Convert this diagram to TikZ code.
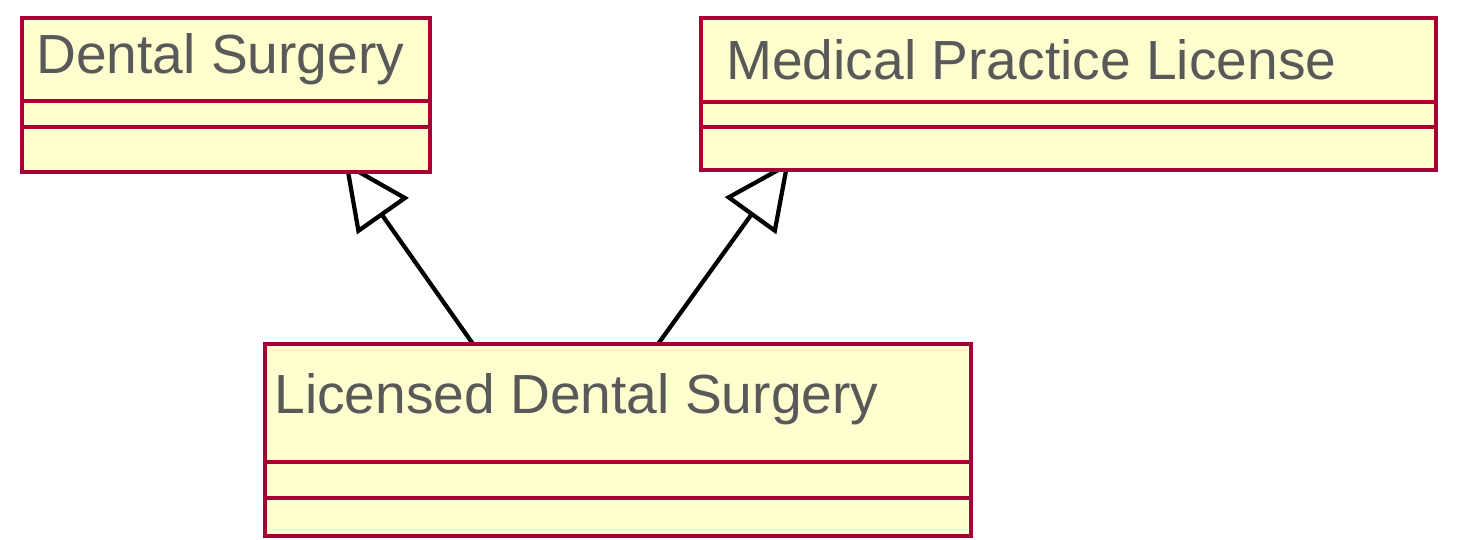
\documentclass[tikz,border=0pt]{standalone}
\usepackage{fontspec}
\setmainfont{Liberation Sans}
\usetikzlibrary{calc,arrows.meta,backgrounds}
\definecolor{umlborder}{HTML}{A80036}
\definecolor{umlfill}{HTML}{FEFECE}
\definecolor{umltext}{HTML}{595959}
\def\px{0.02cm}
\tikzset{
    classbox/.style={draw=umlborder,fill=umlfill,line width=0.085cm,inner sep=0pt,outer sep=0pt,anchor=north west},
    classname/.style={anchor=base west,inner sep=0pt,text=umltext,font=\fontsize{31.4}{37}\selectfont},
    compline/.style={draw=umlborder,line width=0.085cm},
    inherit/.style={line width=0.085cm,-{Triangle[open,length=1.35cm,width=1.25cm]}}
}
\begin{document}
\begin{tikzpicture}[x=0.02cm,y=-0.02cm]
        \useasboundingbox (0,0) rectangle (1466,540);
        \node[classbox,minimum width=408*\px,minimum height=154*\px] (ds) at (22,18) {};
        \node[classbox,minimum width=735*\px,minimum height=152*\px] (mpl) at (701,18) {};
        \node[classbox,minimum width=706*\px,minimum height=192*\px] (lds) at (265,344) {};
        \node[classname] (dsname) at (36,74) {Dental Surgery};
        \node[classname] (mplname) at (726,80) {Medical Practice License};
        \node[classname] (ldsname) at (274,413) {Licensed Dental Surgery};
        \foreach \b/\d in {ds/83,ds/109,mpl/84,mpl/109,lds/118,lds/154}{
            \draw[compline] ($(\b.north west)+(0,\d)$)--($(\b.north east)+(0,\d)$);
        }
        \begin{pgfonlayer}{background}
        \draw[inherit] ($(lds.north west)+(208,0)$)--($(ds.south west)+(322,-11)$);
        \draw[inherit] ($(lds.north west)+(393,0)$)--($(mpl.south west)+(89,-9)$);
        \end{pgfonlayer}
\end{tikzpicture}
\end{document}
